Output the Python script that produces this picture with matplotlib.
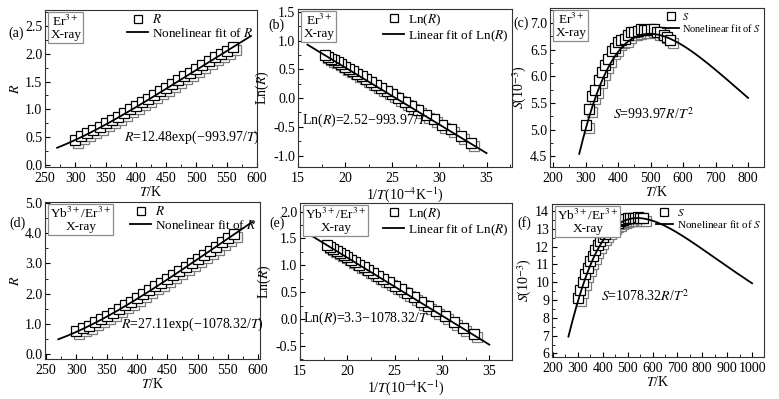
import numpy as np
import matplotlib.pyplot as plt
from matplotlib import transforms
from matplotlib.ticker import MultipleLocator, FormatStrFormatter

plt.rcParams['font.family'] = 'serif'
plt.rcParams['font.serif'] = ['Liberation Serif', 'DejaVu Serif']
plt.rcParams['mathtext.fontset'] = 'stix'
plt.rcParams['font.size'] = 10
plt.rcParams['axes.unicode_minus'] = True

# ---------------- data ----------------
T = [300, 310, 320, 330, 340, 350, 360, 370, 380, 390, 400, 410, 420, 430,
     440, 450, 460, 470, 480, 490, 500, 510, 520, 530, 540, 550, 560]

R_er = [0.46, 0.52, 0.58, 0.63, 0.69, 0.75, 0.81, 0.87, 0.94, 1.00, 1.07, 1.13,
        1.19, 1.26, 1.33, 1.39, 1.46, 1.53, 1.59, 1.66, 1.73, 1.80, 1.86, 1.93,
        1.99, 2.05, 2.11]

R_yb = [0.76, 0.855, 0.95, 1.055, 1.16, 1.27, 1.38, 1.50, 1.62, 1.74, 1.86, 1.98,
        2.11, 2.24, 2.36, 2.49, 2.62, 2.75, 2.88, 3.02, 3.15, 3.28, 3.42, 3.55,
        3.69, 3.82, 3.96]

# fit parameters printed on the panels
A_er, E_er, B_er = 12.48, 993.97, 2.52
A_yb, E_yb, B_yb = 27.11, 1078.32, 3.3

# ranges of the drawn fit curves
fitT_er = (270, 590)
fitT_yb = (270, 590)
fitX_ln = (16, 35)
fitS_er = (280, 800)
fitS_yb = (262, 1000)

T = np.array(T, dtype=float)
R_er = np.array(R_er)
R_yb = np.array(R_yb)


def draw_panel(ax, x, y, xf, yf, lab_pt, lab_fit, leg_fs=9.5):
    # origin-style symbols: grey shadow shifted down-right, then the square
    shadow = transforms.offset_copy(ax.transData, fig=ax.figure, x=3, y=-3, units='dots')
    ax.plot(x, y, 's', ms=7.5, mfc='white', mec='#7a7a7a', mew=0.9,
            transform=shadow, zorder=2)
    ax.plot(x, y, 's', ms=7.5, mfc='white', mec='black', mew=0.9,
            zorder=3, label=lab_pt)
    ax.plot(xf, yf, '-', color='black', lw=1.3, zorder=4, label=lab_fit)
    ax.legend(loc='upper right', frameon=False, fontsize=leg_fs,
              handlelength=1.6, handletextpad=0.3, labelspacing=0.05,
              borderaxespad=0.15, borderpad=0.1, markerscale=0.85)
    ax.tick_params(which='both', direction='in', top=False, right=False)
    ax.tick_params(which='major', length=3.5, width=0.8, pad=2)
    ax.tick_params(axis='x', which='major', pad=3.5)
    ax.tick_params(which='minor', length=2, width=0.6)
    for s in ax.spines.values():
        s.set_linewidth(0.8)
        s.set_color('#333333')


fig = plt.figure(figsize=(7.79, 3.99), dpi=100)
W, H = 779.0, 399.0


def px_axes(l, r, t, b):
    return fig.add_axes([l / W, 1 - b / H, (r - l) / W, (b - t) / H])


ax_a = px_axes(45, 257, 10, 167)
ax_b = px_axes(298, 512, 9, 167)
ax_c = px_axes(550, 764, 8, 167)
ax_d = px_axes(45, 260, 202, 359)
ax_e = px_axes(300, 512, 203, 360)
ax_f = px_axes(552, 764, 204, 357)

# (a)
tf = np.linspace(*fitT_er, 200)
draw_panel(ax_a, T, R_er, tf, A_er * np.exp(-E_er / tf), r'$R$', r'Nonelinear fit of $R$')
ax_a.set_xlim(250, 600)
ax_a.set_ylim(-0.03, 2.78)
ax_a.xaxis.set_major_locator(MultipleLocator(50))
ax_a.xaxis.set_minor_locator(MultipleLocator(25))
ax_a.yaxis.set_major_locator(MultipleLocator(0.5))
ax_a.yaxis.set_minor_locator(MultipleLocator(0.25))
ax_a.yaxis.set_major_formatter(FormatStrFormatter('%.1f'))
ax_a.set_xlabel(r'$T$/K', labelpad=0)
ax_a.set_ylabel(r'$R$', labelpad=2)
ax_a.text(492, 0.5, r'$R$=12.48exp(−993.97/$T$)', ha='center', va='center')

# (b)
xf = np.linspace(*fitX_ln, 100)
draw_panel(ax_b, 1e4 / T, np.log(R_er), xf, B_er - E_er * xf * 1e-4,
           r'Ln($R$)', r'Linear fit of Ln($R$)')
ax_b.set_xlim(15, 37.7)
ax_b.set_ylim(-1.2, 1.55)
ax_b.xaxis.set_major_locator(MultipleLocator(5))
ax_b.xaxis.set_minor_locator(MultipleLocator(2.5))
ax_b.yaxis.set_major_locator(MultipleLocator(0.5))
ax_b.yaxis.set_minor_locator(MultipleLocator(0.25))
ax_b.yaxis.set_major_formatter(FormatStrFormatter('%.1f'))
ax_b.set_xlabel(r'1/$T$(10$^{-4}$K$^{-1}$)', labelpad=0)
ax_b.set_ylabel(r'Ln($R$)', labelpad=2)
ax_b.text(22.1, -0.38, r'Ln($R$)=2.52−993.97/$T$', ha='center', va='center')

# (c)
tf = np.linspace(*fitS_er, 300)
draw_panel(ax_c, T, E_er * R_er / T ** 2 * 1e3, tf,
           E_er * A_er * np.exp(-E_er / tf) / tf ** 2 * 1e3,
           r'$S$', r'Nonelinear fit of $S$', leg_fs=7.5)
ax_c.set_xlim(190, 849)
ax_c.set_ylim(4.3, 7.28)
ax_c.xaxis.set_major_locator(MultipleLocator(100))
ax_c.xaxis.set_minor_locator(MultipleLocator(50))
ax_c.yaxis.set_major_locator(MultipleLocator(0.5))
ax_c.yaxis.set_minor_locator(MultipleLocator(0.25))
ax_c.yaxis.set_major_formatter(FormatStrFormatter('%.1f'))
ax_c.set_xlabel(r'$T$/K', labelpad=0)
ax_c.set_ylabel(r'$S$(10$^{-3}$)', labelpad=1)
ax_c.text(508, 5.3, r'$S$=993.97$R$/$T^2$', ha='center', va='center')

# (d)
tf = np.linspace(*fitT_yb, 200)
draw_panel(ax_d, T, R_yb, tf, A_yb * np.exp(-E_yb / tf), r'$R$', r'Nonelinear fit of $R$')
ax_d.set_xlim(248, 603)
ax_d.set_ylim(-0.15, 5.02)
ax_d.xaxis.set_major_locator(MultipleLocator(50))
ax_d.xaxis.set_minor_locator(MultipleLocator(25))
ax_d.yaxis.set_major_locator(MultipleLocator(1.0))
ax_d.yaxis.set_minor_locator(MultipleLocator(0.5))
ax_d.yaxis.set_major_formatter(FormatStrFormatter('%.1f'))
ax_d.set_xlabel(r'$T$/K', labelpad=0)
ax_d.set_ylabel(r'$R$', labelpad=2)
ax_d.text(492, 1.0, r'$R$=27.11exp(−1078.32/$T$)', ha='center', va='center')

# (e)
xf = np.linspace(*fitX_ln, 100)
draw_panel(ax_e, 1e4 / T, np.log(R_yb), xf, B_yb - E_yb * xf * 1e-4,
           r'Ln($R$)', r'Linear fit of Ln($R$)')
ax_e.set_xlim(15, 37.4)
ax_e.set_ylim(-0.76, 2.16)
ax_e.xaxis.set_major_locator(MultipleLocator(5))
ax_e.xaxis.set_minor_locator(MultipleLocator(2.5))
ax_e.yaxis.set_major_locator(MultipleLocator(0.5))
ax_e.yaxis.set_minor_locator(MultipleLocator(0.25))
ax_e.yaxis.set_major_formatter(FormatStrFormatter('%.1f'))
ax_e.set_xlabel(r'1/$T$(10$^{-4}$K$^{-1}$)', labelpad=0)
ax_e.set_ylabel(r'Ln($R$)', labelpad=2)
ax_e.text(22.0, 0.02, r'Ln($R$)=3.3−1078.32/$T$', ha='center', va='center')

# (f)
tf = np.linspace(*fitS_yb, 300)
draw_panel(ax_f, T, E_yb * R_yb / T ** 2 * 1e3, tf,
           E_yb * A_yb * np.exp(-E_yb / tf) / tf ** 2 * 1e3,
           r'$S$', r'Nonelinear fit of $S$', leg_fs=8)
ax_f.set_xlim(196, 1048)
ax_f.set_ylim(5.8, 14.4)
ax_f.xaxis.set_major_locator(MultipleLocator(100))
ax_f.xaxis.set_minor_locator(MultipleLocator(50))
ax_f.yaxis.set_major_locator(MultipleLocator(1))
ax_f.yaxis.set_minor_locator(MultipleLocator(0.5))
ax_f.set_xlabel(r'$T$/K', labelpad=0)
ax_f.set_ylabel(r'$S$(10$^{-3}$)', labelpad=1)
ax_f.text(571, 9.2, r'$S$=1078.32$R$/$T^2$', ha='center', va='center')

# sample boxes
for ax, txt in [(ax_a, 'Er$^{3+}$\nX-ray'), (ax_b, 'Er$^{3+}$\nX-ray'),
                (ax_c, 'Er$^{3+}$\nX-ray'), (ax_d, 'Yb$^{3+}$/Er$^{3+}$\nX-ray'),
                (ax_e, 'Yb$^{3+}$/Er$^{3+}$\nX-ray'), (ax_f, 'Yb$^{3+}$/Er$^{3+}$\nX-ray')]:
    ax.text(0.025, 0.975, txt, transform=ax.transAxes, ha='left', va='top',
            fontsize=9.5, multialignment='center', linespacing=1.0,
            bbox=dict(boxstyle='square,pad=0.15', fc='white', ec='#8c8c8c', lw=0.9),
            zorder=6)

# panel letters
for lab, (px, py) in [('(a)', (16, 33)), ('(b)', (276, 25)), ('(c)', (521, 23)),
                      ('(d)', (17, 223)), ('(e)', (277, 223)), ('(f)', (524, 223))]:
    fig.text(px / W, 1 - py / H, lab, ha='center', va='center', fontsize=10)

fig.savefig('out.png', dpi=100, facecolor='white')
